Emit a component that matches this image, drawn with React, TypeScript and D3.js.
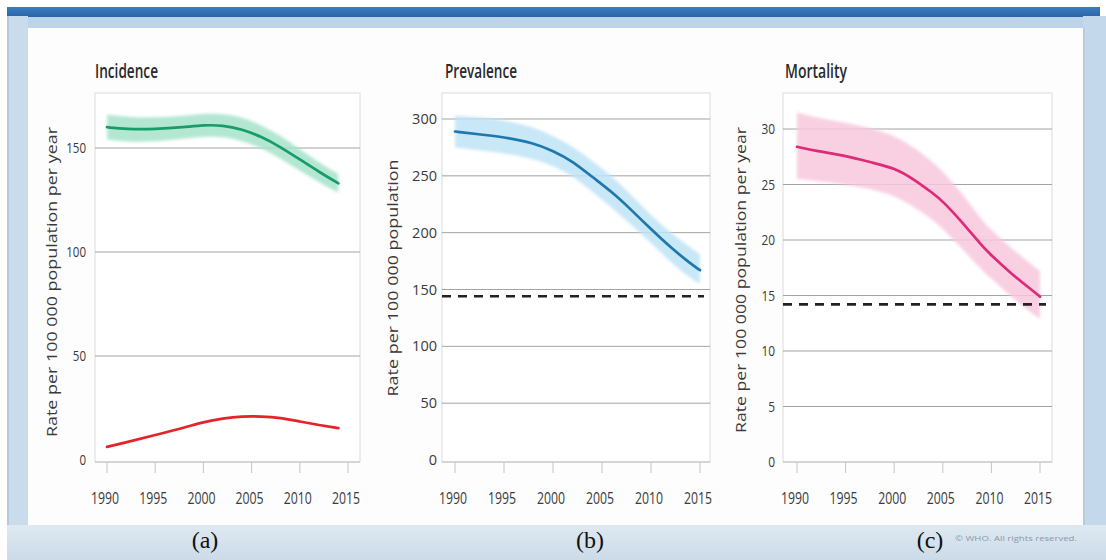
import React from 'react';
import * as d3 from 'd3';

// ---------- DATA ----------
const yearTicks = [1990, 1995, 2000, 2005, 2010, 2015];

const incYears = [1990, 1992, 1995, 1998, 2000, 2002, 2004, 2006, 2008, 2010, 2012, 2014];
const incGreen = [160, 159, 159, 160, 161, 161, 159, 155.5, 150.5, 144.5, 138.5, 133];
const incGreenHi = [166, 165, 164.5, 165.5, 166.5, 166.5, 165, 161, 156, 149.5, 143, 137.5];
const incGreenLo = [154, 153, 153, 154.5, 155.5, 155.5, 153.5, 150, 145, 139, 133.5, 128.5];
const incRed = [6.3, 8.5, 12, 15.5, 18.3, 20, 21, 21, 20.3, 18.5, 16.8, 15.3];
const incTicks = [0, 50, 100, 150];

const prevYears = [1990, 1993, 1995, 1998, 2000, 2002, 2004, 2006, 2008, 2010, 2012, 2014, 2015];
const prevMid = [289, 286, 284, 279, 272, 263, 249, 236, 220, 203, 187, 173, 167];
const prevHi = [303, 301, 299, 293, 285, 276, 263, 250, 233, 215, 200, 187, 181];
const prevLo = [275, 272, 270, 265, 259, 250, 236, 222, 207, 191, 174, 160, 155];
const prevTarget = 144;
const prevTicks = [0, 50, 100, 150, 200, 250, 300];

const mortYears = [1990, 1992, 1995, 1998, 2000, 2002, 2004, 2005, 2007, 2009, 2010, 2012, 2014, 2015];
const mortMid = [28.4, 28.0, 27.6, 26.9, 26.5, 25.5, 24.2, 23.5, 21.6, 19.5, 18.6, 17.0, 15.6, 14.9];
const mortHi = [31.5, 31.0, 30.6, 30.0, 29.4, 28.4, 27.0, 26.2, 24.2, 21.8, 20.9, 19.3, 17.9, 17.2];
const mortLo = [25.5, 25.3, 25.0, 24.5, 24.0, 23.0, 21.8, 21.0, 19.2, 17.3, 16.5, 14.9, 13.5, 12.9];
const mortTarget = 14.2;
const mortTicks = [0, 5, 10, 15, 20, 25, 30];

const titles = ['Incidence', 'Prevalence', 'Mortality'];
const axisTitles = [
  'Rate per 100 000 population per year',
  'Rate per 100 000 population',
  'Rate per 100 000 population per year',
];
const panelLetters = ['(a)', '(b)', '(c)'];

// ---------- LAYOUT ----------
const FONT = "'Open Sans', 'DejaVu Sans', sans-serif";

type Series = { years: number[]; mid: number[]; hi?: number[]; lo?: number[]; line: string; band?: string };

type PanelCfg = {
  L: number; R: number; T: number; B: number;
  x0: number; x1: number;
  yDom: [number, number]; yRng: [number, number];
  ticks: number[];
  tickRight: number; tickDigitW: number;
  title: string; titleX: number; titleLen: number;
  axis: string; axisX: number; axisY: number; axisLen: number;
  series: Series[];
  target?: number;
};

const panels: PanelCfg[] = [
  {
    L: 95, R: 360, T: 93, B: 462, x0: 107, x1: 348,
    yDom: [0, 150], yRng: [460, 148], ticks: incTicks, tickRight: 86, tickDigitW: 6.6,
    title: titles[0], titleX: 95, titleLen: 63,
    axis: axisTitles[0], axisX: 57, axisY: 282, axisLen: 310,
    series: [
      { years: incYears, mid: incGreen, hi: incGreenHi, lo: incGreenLo, line: '#179c6a', band: '#a6e3cb' },
      { years: incYears, mid: incRed, line: '#e6232a' },
    ],
  },
  {
    L: 442, R: 710, T: 93, B: 462, x0: 455, x1: 700,
    yDom: [0, 300], yRng: [460, 119], ticks: prevTicks, tickRight: 437, tickDigitW: 8.3,
    title: titles[1], titleX: 445, titleLen: 72,
    axis: axisTitles[1], axisX: 398, axisY: 278, axisLen: 237,
    series: [
      { years: prevYears, mid: prevMid, hi: prevHi, lo: prevLo, line: '#1d78ad', band: '#bfe3f6' },
    ],
    target: prevTarget,
  },
  {
    L: 783, R: 1052, T: 93, B: 462, x0: 797, x1: 1040,
    yDom: [0, 30], yRng: [462, 129], ticks: mortTicks, tickRight: 775, tickDigitW: 6.8,
    title: titles[2], titleX: 785, titleLen: 62,
    axis: axisTitles[2], axisX: 746, axisY: 280, axisLen: 306,
    series: [
      { years: mortYears, mid: mortMid, hi: mortHi, lo: mortLo, line: '#df2a78', band: '#f8c8dd' },
    ],
    target: mortTarget,
  },
];

function Panel({ p }: { p: PanelCfg }) {
  const x = d3.scaleLinear().domain([1990, 2015]).range([p.x0, p.x1]);
  const y = d3.scaleLinear().domain(p.yDom).range(p.yRng);
  const curve = d3.curveBasis;
  return (
    <g>
      {/* frame */}
      <rect x={p.L} y={p.T} width={p.R - p.L} height={p.B - p.T} fill="#ffffff" stroke="#dcdcdc" strokeWidth={1} />
      {/* gridlines */}
      {p.ticks.filter((t) => t > 0).map((t) => (
        <line key={t} x1={p.L} x2={p.R} y1={y(t)} y2={y(t)} stroke="#a3a3a3" strokeWidth={1} />
      ))}
      <line x1={p.L} x2={p.R} y1={p.B} y2={p.B} stroke="#bdbdbd" strokeWidth={1.2} />
      {/* x ticks */}
      {yearTicks.map((yr) => (
        <line key={yr} x1={x(yr)} x2={x(yr)} y1={p.B} y2={p.B + 11} stroke="#c4c4c4" strokeWidth={1} />
      ))}
      {/* bands */}
      {p.series.map((s, i) => {
        if (!s.hi || !s.lo) return null;
        const area = d3.area<number>()
          .x((_, k) => x(s.years[k]))
          .y0((_, k) => y(s.lo![k]))
          .y1((_, k) => y(s.hi![k]))
          .curve(curve);
        return <path key={'b' + i} d={area(s.mid) || ''} fill={s.band} opacity={0.85} filter="url(#soft)" />;
      })}
      {/* target */}
      {p.target !== undefined && (
        <line x1={p.L} x2={p.R - 6} y1={y(p.target)} y2={y(p.target)} stroke="#222" strokeWidth={2.6} strokeDasharray="9 7" />
      )}
      {/* lines */}
      {p.series.map((s, i) => {
        const line = d3.line<number>()
          .x((_, k) => x(s.years[k]))
          .y((v) => y(v))
          .curve(curve);
        return <path key={'l' + i} d={line(s.mid) || ''} fill="none" stroke={s.line} strokeWidth={2.7} strokeLinecap="round" />;
      })}
      {/* y tick labels */}
      {p.ticks.map((t) => {
        const s = String(t);
        return (
          <text key={t} x={p.tickRight} y={y(t) + 5} textAnchor="end" fontFamily={FONT} fontSize={14}
            fill="#3a3a3a" textLength={s.length * p.tickDigitW} lengthAdjust="spacingAndGlyphs">{s}</text>
        );
      })}
      {/* x tick labels */}
      {yearTicks.map((yr) => (
        <text key={yr} x={x(yr) - 2} y={504} textAnchor="middle" fontFamily={FONT} fontSize={16}
          fill="#3a3a3a" textLength={28} lengthAdjust="spacingAndGlyphs">{yr}</text>
      ))}
      {/* title */}
      <text x={p.titleX} y={78} fontFamily={FONT} fontSize={19} fontWeight={600} fill="#2a2a2a"
        textLength={p.titleLen} lengthAdjust="spacingAndGlyphs">{p.title}</text>
      {/* axis title */}
      <text transform={`translate(${p.axisX},${p.axisY}) rotate(-90)`} textAnchor="middle" fontFamily={FONT}
        fontSize={15} fill="#3a3a3a" textLength={p.axisLen} lengthAdjust="spacingAndGlyphs">{p.axis}</text>
    </g>
  );
}

export default function App() {
  const letterX = [205, 590, 930];
  return (
    <svg width={1106} height={560} style={{ position: 'absolute', left: 0, top: 0, background: '#ffffff' }}>
      <defs>
        <linearGradient id="topbar" x1="0" y1="0" x2="0" y2="1">
          <stop offset="0" stopColor="#3b7cc0" />
          <stop offset="1" stopColor="#2a64a8" />
        </linearGradient>
        <linearGradient id="subbar" x1="0" y1="0" x2="0" y2="1">
          <stop offset="0" stopColor="#bcd4ea" />
          <stop offset="1" stopColor="#e4eef7" />
        </linearGradient>
        <linearGradient id="bottom" x1="0" y1="0" x2="0" y2="1">
          <stop offset="0" stopColor="#dfe9f1" />
          <stop offset="1" stopColor="#cbdbe8" />
        </linearGradient>
        <filter id="soft" x="-5%" y="-10%" width="110%" height="120%">
          <feGaussianBlur stdDeviation="1.4" />
        </filter>
      </defs>
      {/* window frame */}
      <rect x={7} y={16} width={1099} height={544} fill="url(#subbar)" />
      <rect x={7} y={7} width={1093} height={10} fill="url(#topbar)" />
      <rect x={7} y={16} width={21} height={544} fill="#cadcec" />
      <line x1={8} x2={8} y1={16} y2={560} stroke="#9fb6c9" strokeWidth={1} />
      <rect x={1083} y={16} width={23} height={544} fill="#c3d8ea" />
      <line x1={1084} x2={1084} y1={28} y2={525} stroke="#a9c0d4" strokeWidth={1} />
      <rect x={7} y={525} width={1099} height={35} fill="url(#bottom)" />
      <rect x={28} y={28} width={1055} height={497} fill="#fdfdfd" />

      {panels.map((p, i) => <Panel key={i} p={p} />)}

      {/* panel letters */}
      {panelLetters.map((l, i) => (
        <text key={l} x={letterX[i]} y={548} textAnchor="middle" fontFamily="'Liberation Serif', 'Times New Roman', serif"
          fontSize={24} fill="#111">{l}</text>
      ))}
      <text x={955} y={541} fontFamily={FONT} fontSize={8} fill="#8a9aa8" textLength={122} lengthAdjust="spacingAndGlyphs">
        © WHO. All rights reserved.
      </text>
    </svg>
  );
}
